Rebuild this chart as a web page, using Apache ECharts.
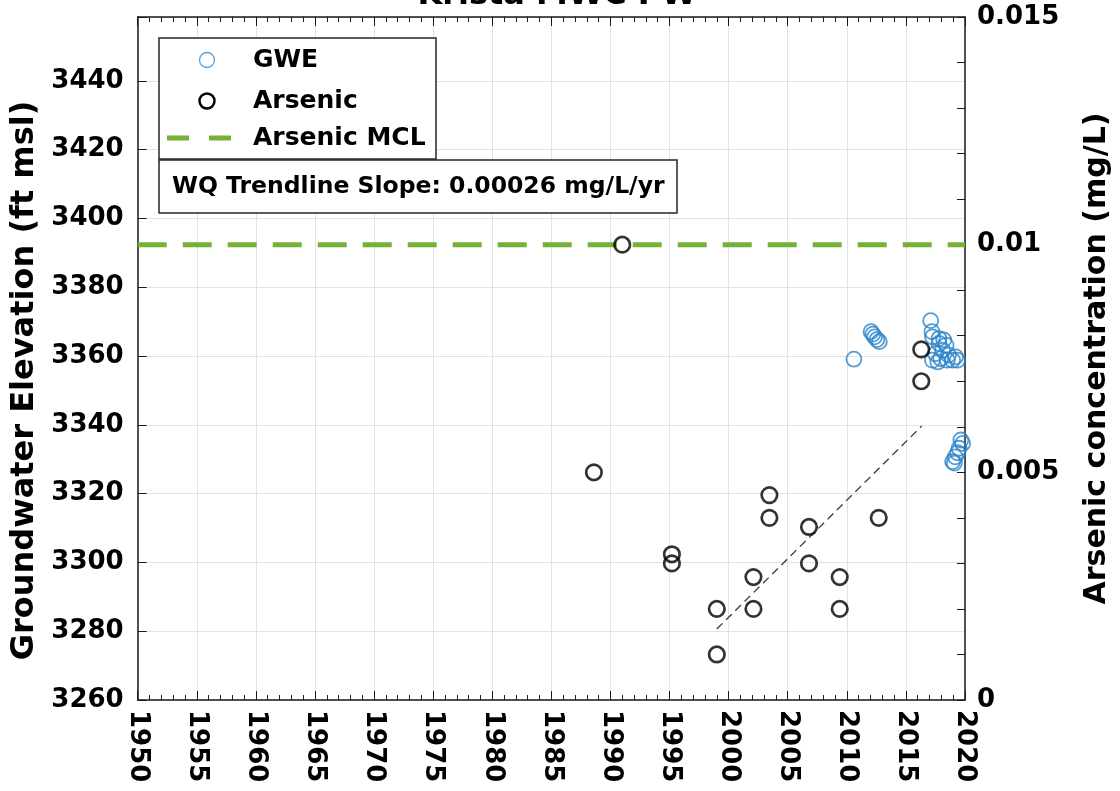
<!DOCTYPE html>
<html>
<head>
<meta charset="utf-8">
<title>Krista MWC PW</title>
<script src="https://cdn.jsdelivr.net/npm/echarts@6/dist/echarts.min.js"></script>
<style>
  html, body { margin: 0; padding: 0; background: #ffffff; }
  #chart { width: 1120px; height: 791px; }
</style>
</head>
<body>
<div id="chart"></div>
<script>
// Groundwater elevation readings (decimal year, ft msl)
var gweYears = [2010.6, 2012.05, 2012.2, 2012.35, 2012.55, 2012.75,
  2017.1, 2017.2, 2017.25, 2017.8, 2018.2, 2018.4, 2018.1, 2017.5, 2017.25, 2017.7,
  2017.95, 2018.5, 2018.95, 2019.35, 2019.2, 2018.6, 2017.8,
  2019.65, 2019.8, 2019.5, 2019.37, 2019.17, 2018.95, 2019.1];
var gweValues = [3359.1, 3367.1, 3366.4, 3365.6, 3364.8, 3364.2,
  3370.3, 3367.1, 3365.6, 3365.1, 3364.7, 3363.2, 3361.7, 3360.7, 3358.8, 3358.3,
  3359.3, 3358.8, 3358.8, 3358.8, 3359.8, 3360.3, 3363.7,
  3335.6, 3334.6, 3333.2, 3331.9, 3330.7, 3329.3, 3328.9];

// Arsenic sample results (decimal year, mg/L)
var arsenicYears = [1988.6, 1991.0, 1995.2, 1995.2, 1999.0, 1999.0, 2002.1, 2002.1,
  2003.45, 2003.45, 2006.8, 2006.8, 2009.4, 2009.4, 2012.7, 2016.3, 2016.3];
var arsenicValues = [0.0050, 0.0100, 0.0032, 0.0030, 0.0020, 0.0010, 0.0027, 0.0020,
  0.0045, 0.0040, 0.0038, 0.0030, 0.0027, 0.0020, 0.0040, 0.0077, 0.0070];

// Water-quality trendline end points (decimal year, mg/L)
var trendYears = [1999.0, 2016.35];
var trendValues = [0.00156, 0.00602];
var trendSlopeText = 'WQ Trendline Slope: 0.00026 mg/L/yr';

// Maximum contaminant level for arsenic (mg/L)
var arsenicMCL = 0.010;

// Axis ranges and tick spacing
var yearRange = [1950, 2020];
var yearStep = 5;
var elevRange = [3260, 3458.6];
var elevStep = 20;
var concRange = [0, 0.015];
var concStep = 0.005;

var FONT = 'DejaVu Sans';
var AXIS_COLOR = '#1a1a1a';
var GRID_COLOR = '#e2e2e2';
var GWE_COLOR = '#2b84cb';
var MCL_COLOR = '#77b038';

function zip(xs, ys) {
  return xs.map(function (x, i) { return [x, ys[i]]; });
}

var chart = echarts.init(document.getElementById('chart'), null, { renderer: 'canvas' });

var tickCommon = { show: true, inside: true, length: 9, lineStyle: { color: AXIS_COLOR, width: 1 } };
var minorCommon = { show: true, splitNumber: 5, length: 5, lineStyle: { color: AXIS_COLOR, width: 1 } };
var lineCommon = { show: true, lineStyle: { color: AXIS_COLOR, width: 1.5 } };

var option = {
  animation: false,
  backgroundColor: '#ffffff',
  title: {
    text: 'Krista MWC PW',
    left: 552,
    textAlign: 'center',
    top: -25,
    textStyle: { fontFamily: FONT, fontWeight: 'bold', fontSize: 32, color: '#000' }
  },
  grid: { left: 137.7, right: 154, top: 17, bottom: 91, containLabel: false },
  xAxis: [{
    type: 'value',
    position: 'bottom',
    min: yearRange[0], max: yearRange[1], interval: yearStep,
    axisLine: lineCommon,
    axisTick: tickCommon,
    minorTick: minorCommon,
    splitLine: { show: true, lineStyle: { color: GRID_COLOR, width: 1 } },
    axisLabel: {
      rotate: -90, margin: 10,
      fontFamily: FONT, fontWeight: 'bold', fontSize: 26, color: '#000',
      formatter: function (v) { return String(v); }
    }
  }, {
    type: 'value',
    position: 'top',
    min: yearRange[0], max: yearRange[1], interval: yearStep,
    axisLine: lineCommon,
    axisTick: tickCommon,
    minorTick: minorCommon,
    splitLine: { show: false },
    axisLabel: { show: false }
  }],
  yAxis: [{
    type: 'value',
    position: 'left',
    min: elevRange[0], max: elevRange[1], interval: elevStep,
    axisLine: lineCommon,
    axisTick: tickCommon,
    splitLine: { show: true, lineStyle: { color: GRID_COLOR, width: 1 } },
    axisLabel: {
      margin: 14,
      fontFamily: FONT, fontWeight: 'bold', fontSize: 26, color: '#000',
      formatter: function (v) { return Math.abs(v % elevStep) < 1e-6 ? String(v) : ''; }
    },
    name: 'Groundwater Elevation (ft msl)',
    nameLocation: 'middle',
    nameRotate: 90,
    nameGap: 92,
    nameTextStyle: {
      fontFamily: FONT, fontWeight: 'bold', fontSize: 32, color: '#000',
      padding: [0, 44, 0, 0]
    }
  }, {
    type: 'value',
    position: 'right',
    min: concRange[0], max: concRange[1], interval: concStep,
    axisLine: lineCommon,
    axisTick: { show: true, inside: true, length: 8, lineStyle: { color: AXIS_COLOR, width: 1 } },
    minorTick: { show: true, splitNumber: 5, length: 8, lineStyle: { color: AXIS_COLOR, width: 1 } },
    splitLine: { show: false },
    axisLabel: {
      margin: 12,
      fontFamily: FONT, fontWeight: 'bold', fontSize: 26, color: '#000',
      formatter: function (v) { return String(parseFloat(v.toFixed(4))); }
    },
    name: 'Arsenic concentration (mg/L)',
    nameLocation: 'middle',
    nameRotate: 90,
    nameGap: 117,
    nameTextStyle: { fontFamily: FONT, fontWeight: 'bold', fontSize: 30, color: '#000' }
  }],
  series: [{
    name: 'Arsenic MCL',
    type: 'line',
    xAxisIndex: 0, yAxisIndex: 1,
    data: [[yearRange[0], arsenicMCL], [yearRange[1], arsenicMCL]],
    showSymbol: false, symbol: 'none',
    lineStyle: { color: MCL_COLOR, width: 5, type: [29, 16] },
    silent: true, z: 3
  }, {
    name: 'GWE',
    type: 'scatter',
    xAxisIndex: 0, yAxisIndex: 0,
    data: zip(gweYears, gweValues),
    symbol: 'circle', symbolSize: 15,
    itemStyle: { color: 'rgba(255,255,255,0)', borderColor: GWE_COLOR, borderWidth: 1.8 },
    clip: false, silent: true, z: 4
  }, {
    name: 'Trendline',
    type: 'line',
    xAxisIndex: 0, yAxisIndex: 1,
    data: zip(trendYears, trendValues),
    showSymbol: false, symbol: 'none',
    lineStyle: { color: '#3a3a3a', width: 1.3, type: [8, 5] },
    silent: true, z: 5
  }, {
    name: 'Arsenic',
    type: 'scatter',
    xAxisIndex: 0, yAxisIndex: 1,
    data: zip(arsenicYears, arsenicValues),
    symbol: 'circle', symbolSize: 15.5,
    itemStyle: { color: 'rgba(255,255,255,0)', borderColor: '#000', borderWidth: 2.7 },
    clip: false, silent: true, z: 6
  }],
  graphic: [
    // legend box
    { type: 'rect', z: 100, shape: { x: 159, y: 38, width: 277, height: 121 },
      style: { fill: '#fff', stroke: '#262626', lineWidth: 1.5 } },
    { type: 'circle', z: 101, shape: { cx: 207, cy: 60, r: 7.5 },
      style: { fill: 'none', stroke: '#5aa3da', lineWidth: 1.3 } },
    { type: 'text', z: 101, x: 253, y: 60,
      style: { text: 'GWE', fill: '#000', font: 'bold 25px "DejaVu Sans"', verticalAlign: 'middle' } },
    { type: 'circle', z: 101, shape: { cx: 207, cy: 101, r: 7.5 },
      style: { fill: 'none', stroke: '#000', lineWidth: 2.5 } },
    { type: 'text', z: 101, x: 253, y: 101,
      style: { text: 'Arsenic', fill: '#000', font: 'bold 25px "DejaVu Sans"', verticalAlign: 'middle' } },
    { type: 'line', z: 101, shape: { x1: 167, y1: 138, x2: 231, y2: 138 },
      style: { stroke: MCL_COLOR, lineWidth: 5, lineDash: [22, 20] } },
    { type: 'text', z: 101, x: 253, y: 138,
      style: { text: 'Arsenic MCL', fill: '#000', font: 'bold 25px "DejaVu Sans"', verticalAlign: 'middle' } },
    // trend slope note
    { type: 'rect', z: 100, shape: { x: 159, y: 160, width: 518, height: 53 },
      style: { fill: '#fff', stroke: '#262626', lineWidth: 1.5 } },
    { type: 'text', z: 101, x: 172, y: 187,
      style: { text: trendSlopeText, fill: '#000', font: 'bold 23.5px "DejaVu Sans"', verticalAlign: 'middle' } }
  ]
};

chart.setOption(option);
</script>
</body>
</html>
